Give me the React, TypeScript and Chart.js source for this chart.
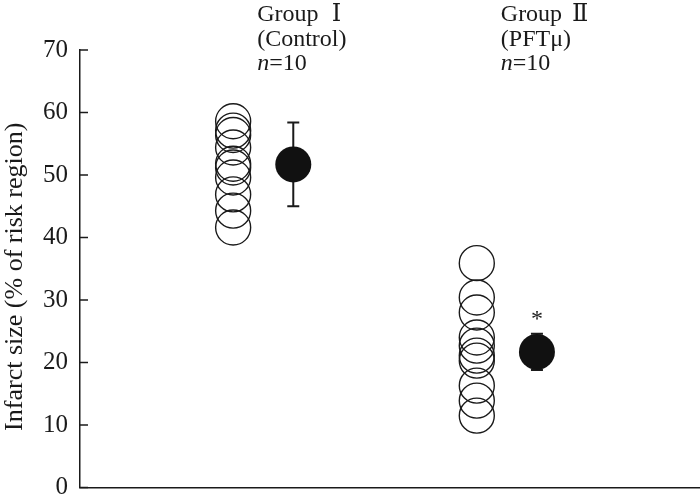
import React, { useEffect, useRef } from "react";
import { Chart, registerables } from "chart.js";

Chart.register(...registerables);

const groupWords = ["Group", "Group"];
const groupNumerals = ["Ⅰ", "Ⅱ"];
const groupSubtitles = ["(Control)", "(PFTμ)"];
const groupN = [10, 10];
const groupX = [2.47, 6.4];
const meanX = [3.44, 7.37];
const groupIValues = [58.6, 57.1, 56.4, 54.4, 51.8, 51.2, 49.6, 46.9, 44.3, 41.6];
const groupIIValues = [35.9, 30.4, 28.0, 24.0, 22.7, 21.1, 20.3, 16.3, 13.9, 11.5];
const groupMeans = [51.7, 21.7];
const groupSD = [6.7, 2.9];
const significance = ["", "*"];
const yTicks = [0, 10, 20, 30, 40, 50, 60, 70];
const yTitle = "Infarct size (% of risk region)";

const FONT = "'Liberation Serif', 'DejaVu Serif', serif";
const INK = "#1a1a1a";

export default function App() {
  const ref = useRef<HTMLCanvasElement | null>(null);

  useEffect(() => {
    document.body.style.margin = "0";
    const canvas = ref.current;
    if (!canvas) return;

    const annotations = {
      id: "annotations",
      beforeDatasetsDraw(chart: any) {
        const { ctx, scales } = chart;
        const xs = scales.x;
        const ys = scales.y;
        ctx.save();
        ctx.strokeStyle = INK;
        ctx.lineWidth = 2;
        groupMeans.forEach((m, i) => {
          const px = xs.getPixelForValue(meanX[i]);
          const top = ys.getPixelForValue(m + groupSD[i]);
          const bot = ys.getPixelForValue(m - groupSD[i]);
          ctx.beginPath();
          ctx.moveTo(px, top);
          ctx.lineTo(px, bot);
          ctx.moveTo(px - 6, top);
          ctx.lineTo(px + 6, top);
          ctx.moveTo(px - 6, bot);
          ctx.lineTo(px + 6, bot);
          ctx.stroke();
        });
        ctx.restore();
      },
      afterDraw(chart: any) {
        const { ctx, scales, chartArea } = chart;
        const xs = scales.x;
        const ys = scales.y;
        ctx.save();
        // inward ticks
        ctx.strokeStyle = INK;
        ctx.lineWidth = 1.5;
        yTicks.forEach((t) => {
          const py = ys.getPixelForValue(t);
          ctx.beginPath();
          ctx.moveTo(chartArea.left, py);
          ctx.lineTo(chartArea.left + 8, py);
          ctx.stroke();
        });
        ctx.fillStyle = INK;
        // y title
        ctx.save();
        ctx.translate(15, (chartArea.top + chartArea.bottom) / 2 + 8);
        ctx.rotate(-Math.PI / 2);
        ctx.textAlign = "center";
        ctx.textBaseline = "middle";
        ctx.font = `26px ${FONT}`;
        ctx.fillText(yTitle, 0, 0);
        ctx.restore();
        // headers
        ctx.textBaseline = "alphabetic";
        groupWords.forEach((word, i) => {
          const lx = xs.getPixelForValue(groupX[i]) + 24;
          ctx.font = `24px ${FONT}`;
          ctx.textAlign = "left";
          ctx.fillText(word, lx, 21);
          const ww = ctx.measureText(word + " ").width;
          ctx.textAlign = "center";
          ctx.fillText(groupNumerals[i], lx + ww + 12, 21);
          ctx.textAlign = "left";
          ctx.fillText(groupSubtitles[i], lx, 46);
          ctx.font = `italic 24px ${FONT}`;
          ctx.fillText("n", lx, 70);
          const w = ctx.measureText("n").width;
          ctx.font = `24px ${FONT}`;
          ctx.fillText(`=${groupN[i]}`, lx + w, 70);
        });
        // significance
        ctx.textAlign = "center";
        ctx.font = `24px ${FONT}`;
        significance.forEach((s, i) => {
          if (!s) return;
          const px = xs.getPixelForValue(meanX[i]);
          const py = ys.getPixelForValue(groupMeans[i] + groupSD[i]);
          ctx.fillText(s, px, py - 8);
        });
        ctx.restore();
      },
    };

    const chart = new Chart(canvas, {
      type: "scatter",
      data: {
        datasets: [
          {
            data: groupIValues.map((v) => ({ x: groupX[0], y: v })),
            pointRadius: 17.5,
            pointBorderWidth: 1.4,
            pointBorderColor: INK,
            pointBackgroundColor: "rgba(0,0,0,0)",
          },
          {
            data: groupIIValues.map((v) => ({ x: groupX[1], y: v })),
            pointRadius: 17.5,
            pointBorderWidth: 1.4,
            pointBorderColor: INK,
            pointBackgroundColor: "rgba(0,0,0,0)",
          },
          {
            data: groupMeans.map((m, i) => ({ x: meanX[i], y: m })),
            pointRadius: 18,
            pointBorderWidth: 0,
            pointBorderColor: "#111",
            pointBackgroundColor: "#111",
          },
        ],
      },
      options: {
        animation: false,
        responsive: false,
        maintainAspectRatio: false,
        layout: { autoPadding: false, padding: { top: 50, right: 0, left: 0, bottom: 0 } },
        plugins: { legend: { display: false }, tooltip: { enabled: false } },
        scales: {
          x: {
            type: "linear",
            min: 0,
            max: 10,
            grid: { display: false },
            ticks: { display: false },
            border: { display: true, color: INK, width: 1.5 },
            afterFit: (s: any) => {
              s.height = 11.5;
              s.paddingLeft = 0;
              s.paddingRight = 0;
              s.paddingTop = 0;
              s.paddingBottom = 0;
            },
          },
          y: {
            min: 0,
            max: 70,
            afterBuildTicks: (s: any) => {
              s.ticks = yTicks.map((v) => ({ value: v }));
            },
            grid: { display: false, drawTicks: false },
            border: { display: true, color: INK, width: 1.5 },
            ticks: {
              padding: 12,
              color: INK,
              font: { family: FONT, size: 25 },
            },
            afterFit: (s: any) => {
              s.width = 80;
              s.paddingTop = 0;
              s.paddingBottom = 0;
              s.paddingLeft = 0;
              s.paddingRight = 0;
            },
          },
        },
      },
      plugins: [annotations],
    });

    return () => chart.destroy();
  }, []);

  return (
    <div style={{ width: 700, height: 499 }}>
      <canvas ref={ref} width={700} height={499} style={{ display: "block" }} />
    </div>
  );
}
